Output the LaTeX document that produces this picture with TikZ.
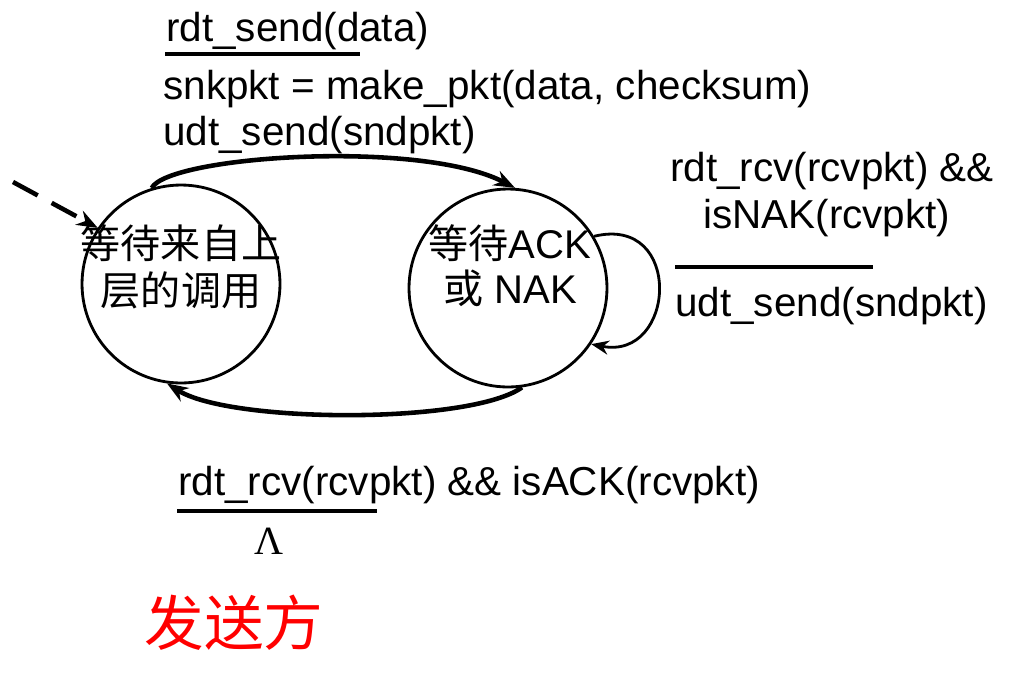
\documentclass[tikz,border=0pt]{standalone}
\usepackage{fontspec}
\setmainfont{Liberation Sans}
\newfontfamily\cjk{Noto Sans CJK SC}
\newfontfamily\grk{Liberation Serif}
\usetikzlibrary{positioning, arrows.meta}

\begin{document}
\begin{tikzpicture}[
  x=0.02cm, y=0.02cm,
  state/.style={circle, draw, line width=1.6pt,
    minimum size=3.96cm, inner sep=0pt},
  evlbl/.style={font=\fontsize{23}{26}\selectfont,
    inner sep=0pt, anchor=base west},
  cnlbl/.style={font=\cjk\fontsize{22.8}{26}\selectfont, inner sep=0pt},
  mixlbl/.style={font=\fontsize{22.8}{26}\selectfont, inner sep=0pt},
  guard/.style={line width=2.8pt},
  trans/.style={-{Stealth[length=12pt, width=9pt]}, line width=2.6pt},
  selfloop/.style={-{Stealth[length=10pt, width=8pt]}, line width=1.6pt},
]

\useasboundingbox (0,0) rectangle (1028,-684);

% ---- States ----
\node[state] (wcall) at (181,-284) {};
\node[cnlbl] (wcallA) at (181,-243) {等待来自上};
\node[cnlbl] (wcallB) at (181,-290) {层的调用};

\node[state] (wack) at (508,-288) {};
\node[mixlbl] (wackA) at (510,-243) {{\cjk 等待}ACK};
\node[mixlbl] (wackB) at (510,-288) {{\cjk 或} NAK};

% ---- Initial arrow ----
\coordinate (init) at (13,-182);
\draw[trans, dash pattern=on 16pt off 9pt] (init) -- (wcall.146);

% ---- Call -> wait ACK ----
\node[evlbl] (sendev) at (166,-41) {rdt\_send(data)};
\draw[guard] (165,-54) -- (360,-54);
\node[evlbl] (sendactA) at (163,-99) {snkpkt = make\_pkt(data, checksum)};
\node[evlbl] (sendactB) at (163,-145) {udt\_send(sndpkt)};
\draw[trans] (wcall.107) .. controls +(17,32) and +(-95,49) .. (wack.86);

% ---- NAK: resend ----
\node[evlbl] (nakevA) at (670,-181) {rdt\_rcv(rcvpkt) \&\&};
\node[evlbl] (nakevB) at (703,-228) {isNAK(rcvpkt)};
\draw[guard] (675,-267) -- (873,-267);
\node[evlbl] (nakact) at (675,-316) {udt\_send(sndpkt)};
\draw[selfloop] (wack.31) .. controls +(90,22) and +(85,-17) .. (wack.326);

% ---- ACK: back to call ----
\draw[trans] (wack.278) .. controls +(-52,-37) and +(63,-40) .. (wcall.262);
\node[evlbl] (ackev) at (178,-495) {rdt\_rcv(rcvpkt) \&\& isACK(rcvpkt)};
\draw[guard] (177,-511) -- (377,-511);
\node[mixlbl, font=\grk\fontsize{22.8}{26}\selectfont] (ackact) at (269,-541) {Λ};

% ---- Caption ----
\node[cnlbl, font=\cjk\fontsize{34}{38}\selectfont, text=red] (side) at (234,-623) {发送方};

\end{tikzpicture}
\end{document}
